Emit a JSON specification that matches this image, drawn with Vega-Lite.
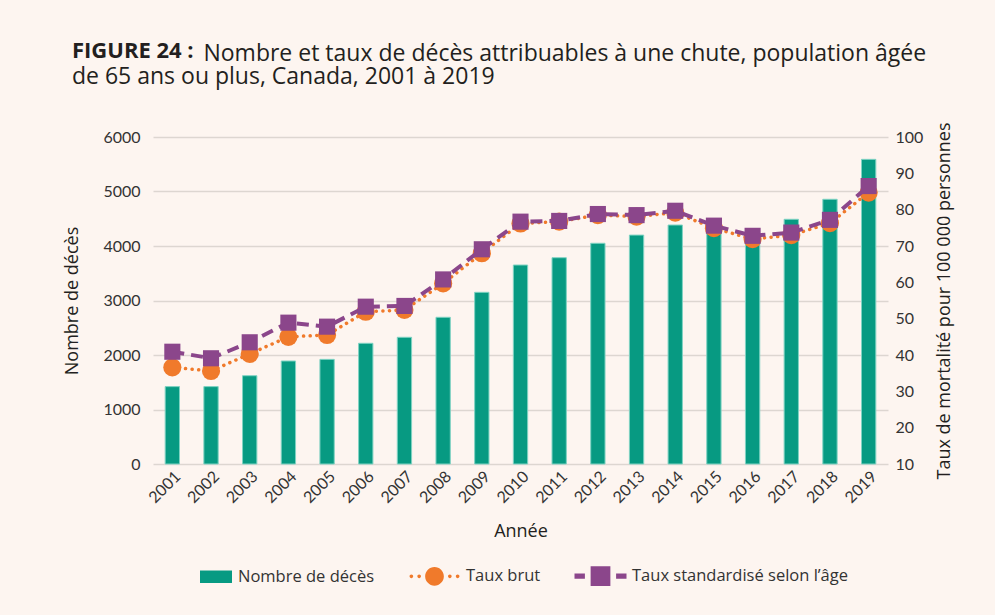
{
  "$schema": "https://vega.github.io/schema/vega-lite/v6.json",
  "width": 735,
  "height": 327,
  "autosize": {"type": "none"},
  "padding": {"left": 153, "top": 137, "right": 107, "bottom": 151},
  "background": "#fdf5f0",
  "title": {
    "text": "FIGURE 24 :",
    "subtitle": ["\u200b\u00a0\u00a0\u00a0\u00a0\u00a0\u00a0\u00a0\u00a0\u00a0\u00a0\u00a0\u00a0\u00a0\u00a0\u00a0\u00a0\u00a0\u00a0\u00a0\u00a0\u00a0\u00a0Nombre et taux de décès attribuables à une chute, population âgée", "de 65 ans ou plus, Canada, 2001 à 2019"],
    "anchor": "start",
    "frame": "group",
    "dx": -81,
    "offset": 32,
    "font": "Open Sans",
    "fontSize": 22,
    "fontWeight": "bold",
    "color": "#231f20",
    "lineHeight": 24,
    "subtitleFont": "Open Sans",
    "subtitleFontSize": 23,
    "subtitleColor": "#231f20",
    "subtitleLineHeight": 23,
    "subtitlePadding": -20
  },
  "data": {
    "values": [
      {"annee": "2001", "Nombre de décès": 1420, "Taux brut": 36.6, "Taux standardisé selon l’âge": 40.9},
      {"annee": "2002", "Nombre de décès": 1420, "Taux brut": 35.6, "Taux standardisé selon l’âge": 39.1},
      {"annee": "2003", "Nombre de décès": 1620, "Taux brut": 40.3, "Taux standardisé selon l’âge": 43.5},
      {"annee": "2004", "Nombre de décès": 1890, "Taux brut": 45.0, "Taux standardisé selon l’âge": 48.9},
      {"annee": "2005", "Nombre de décès": 1920, "Taux brut": 45.5, "Taux standardisé selon l’âge": 47.8},
      {"annee": "2006", "Nombre de décès": 2215, "Taux brut": 51.9, "Taux standardisé selon l’âge": 53.3},
      {"annee": "2007", "Nombre de décès": 2325, "Taux brut": 52.4, "Taux standardisé selon l’âge": 53.5},
      {"annee": "2008", "Nombre de décès": 2692, "Taux brut": 59.7, "Taux standardisé selon l’âge": 60.8},
      {"annee": "2009", "Nombre de décès": 3150, "Taux brut": 68.0, "Taux standardisé selon l’âge": 69.1},
      {"annee": "2010", "Nombre de décès": 3651, "Taux brut": 76.2, "Taux standardisé selon l’âge": 76.7},
      {"annee": "2011", "Nombre de décès": 3785, "Taux brut": 76.7, "Taux standardisé selon l’âge": 76.9},
      {"annee": "2012", "Nombre de décès": 4050, "Taux brut": 78.5, "Taux standardisé selon l’âge": 78.8},
      {"annee": "2013", "Nombre de décès": 4200, "Taux brut": 78.1, "Taux standardisé selon l’âge": 78.5},
      {"annee": "2014", "Nombre de décès": 4385, "Taux brut": 79.2, "Taux standardisé selon l’âge": 79.7},
      {"annee": "2015", "Nombre de décès": 4300, "Taux brut": 74.9, "Taux standardisé selon l’âge": 75.6},
      {"annee": "2016", "Nombre de décès": 4100, "Taux brut": 71.9, "Taux standardisé selon l’âge": 72.8},
      {"annee": "2017", "Nombre de décès": 4490, "Taux brut": 73.0, "Taux standardisé selon l’âge": 73.7},
      {"annee": "2018", "Nombre de décès": 4857, "Taux brut": 76.3, "Taux standardisé selon l’âge": 77.2},
      {"annee": "2019", "Nombre de décès": 5590, "Taux brut": 84.7, "Taux standardisé selon l’âge": 86.5}
    ]
  },
  "encoding": {
    "x": {
      "field": "annee",
      "type": "ordinal",
      "scale": {"padding": 0},
      "axis": {
        "title": "Année",
        "labelAngle": -45,
        "labelAlign": "right",
        "labelBaseline": "top",
        "labelPadding": 4,
        "ticks": false,
        "domain": false,
        "titlePadding": 17
      }
    }
  },
  "layer": [
    {
      "mark": {"type": "bar", "width": {"band": 0.37}, "color": "#079a82", "stroke": "#7fd3c3", "strokeWidth": 1},
      "encoding": {
        "y": {
          "field": "Nombre de décès",
          "type": "quantitative",
          "scale": {"domain": [0, 6000], "nice": false},
          "axis": {
            "title": "Nombre de décès",
            "values": [0, 1000, 2000, 3000, 4000, 5000, 6000],
            "format": "d",
            "grid": true,
            "ticks": false,
            "domain": false,
            "labelPadding": 13,
            "titlePadding": 21
          }
        }
      }
    },
    {
      "encoding": {
        "y": {
          "type": "quantitative",
          "scale": {"domain": [10, 100], "nice": false, "zero": false},
          "axis": {
            "orient": "right",
            "title": "Taux de mortalité pour 100 000 personnes",
            "titleAngle": -90,
            "titleBaseline": "top",
            "values": [10, 20, 30, 40, 50, 60, 70, 80, 90, 100],
            "grid": false,
            "ticks": false,
            "domain": false,
            "labelPadding": 7,
            "titlePadding": 13
          }
        }
      },
      "layer": [
        {
          "mark": {"type": "line", "color": "#f07a2b", "strokeWidth": 3.5, "strokeDash": [0.1, 6.5], "strokeCap": "round"},
          "encoding": {"y": {"field": "Taux brut", "type": "quantitative"}}
        },
        {
          "mark": {"type": "point", "shape": "circle", "filled": true, "opacity": 1, "color": "#f07a2b", "size": 330},
          "encoding": {"y": {"field": "Taux brut", "type": "quantitative"}}
        },
        {
          "mark": {"type": "line", "color": "#8b468b", "strokeWidth": 4, "strokeDash": [12, 7]},
          "encoding": {"y": {"field": "Taux standardisé selon l’âge", "type": "quantitative"}}
        },
        {
          "mark": {"type": "point", "shape": "square", "filled": true, "opacity": 1, "color": "#8b468b", "size": 260},
          "encoding": {"y": {"field": "Taux standardisé selon l’âge", "type": "quantitative"}}
        },
        {
          "transform": [{"fold": ["Taux brut", "Taux standardisé selon l’âge"], "as": ["serie", "valeur"]}],
          "mark": {"type": "point", "filled": true, "opacity": 0},
          "encoding": {
            "y": {"field": "valeur", "type": "quantitative"},
            "color": {
              "field": "serie",
              "type": "nominal",
              "scale": {
                "domain": ["Nombre de décès", "Taux brut", "Taux standardisé selon l’âge"],
                "range": ["#079a82", "#f07a2b", "#8b468b"]
              },
              "legend": {
                "title": null,
                "orient": "none",
                "direction": "horizontal",
                "legendX": 27.5,
                "legendY": 413,
                "symbolSize": 2704,
                "symbolOpacity": 1,
                "symbolStrokeWidth": 0,
                "columnPadding": 34,
                "labelOffset": 5.5,
                "labelLimit": 0,
                "labelFont": "Open Sans",
                "labelFontSize": 16.5,
                "labelColor": "#333333",
                "encode": {"symbols": {"update": {"opacity": {"value": 1}, "fillOpacity": {"value": 1}}}}
              }
            },
            "shape": {
              "field": "serie",
              "type": "nominal",
              "scale": {
                "domain": ["Nombre de décès", "Taux brut", "Taux standardisé selon l’âge"],
                "range": [
                  "M-0.25,-0.24 L0.98,-0.24 L0.98,0.24 L-0.25,0.24 Z",
                  "M-0.36,0 A0.36,0.36 0 1,0 0.36,0 A0.36,0.36 0 1,0 -0.36,0 Z M-0.96,0 A0.07,0.07 0 1,0 -0.82,0 A0.07,0.07 0 1,0 -0.96,0 Z M-0.66,0 A0.07,0.07 0 1,0 -0.52,0 A0.07,0.07 0 1,0 -0.66,0 Z M0.52,0 A0.07,0.07 0 1,0 0.66,0 A0.07,0.07 0 1,0 0.52,0 Z M0.82,0 A0.07,0.07 0 1,0 0.96,0 A0.07,0.07 0 1,0 0.82,0 Z",
                  "M-0.38,-0.38 L0.38,-0.38 L0.38,0.38 L-0.38,0.38 Z M-1,-0.1 L-0.6,-0.1 L-0.6,0.1 L-1,0.1 Z M0.6,-0.1 L1,-0.1 L1,0.1 L0.6,0.1 Z"
                ]
              },
              "legend": null
            }
          }
        }
      ]
    }
  ],
  "resolve": {"scale": {"y": "independent"}},
  "config": {
    "font": "Lato",
    "view": {"stroke": null},
    "axis": {
      "labelFont": "Lato",
      "labelFontSize": 16,
      "labelColor": "#333333",
      "titleFont": "Open Sans",
      "titleFontSize": 18,
      "titleFontWeight": "normal",
      "titleColor": "#231f20",
      "gridColor": "#ddd6d1",
      "gridWidth": 1.5
    }
  }
}
